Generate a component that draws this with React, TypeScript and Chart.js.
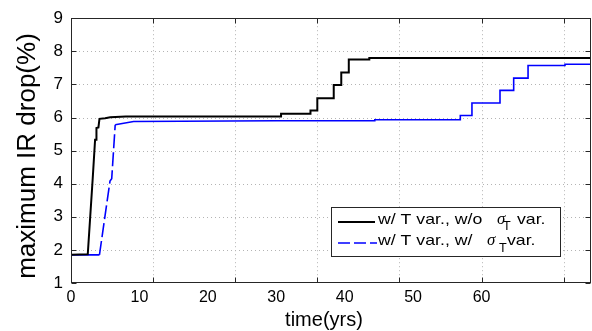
import React, { useEffect, useRef } from "react";
import { Chart, registerables } from "chart.js";

Chart.register(...registerables);

// ---- data ----
const timeBlack = [0, 2.45, 3.18, 3.52, 3.67, 3.72, 4.01, 4.16, 4.99, 5.73, 8.0, 30.7, 30.7, 35.0, 35.0, 36.0, 36.0, 38.4, 38.4, 39.5, 39.5, 40.6, 40.6, 43.6, 43.6, 76];
const irBlack = [1.85, 1.87, 4.18, 5.33, 5.33, 5.68, 5.7, 5.96, 5.98, 6.01, 6.03, 6.03, 6.11, 6.11, 6.21, 6.21, 6.58, 6.58, 6.98, 6.98, 7.36, 7.36, 7.75, 7.75, 7.8, 7.8];

const timeBlue = [0, 4.16, 5.7, 5.95, 6.46, 9.15, 30, 44.4, 44.4, 56.9, 56.9, 58.6, 58.6, 62.7, 62.7, 64.7, 64.7, 66.8, 66.8, 72.2, 72.2, 76];
const irBlue = [1.85, 1.85, 4.08, 4.15, 5.78, 5.88, 5.9, 5.9, 5.93, 5.93, 6.06, 6.06, 6.44, 6.44, 6.82, 6.82, 7.19, 7.19, 7.57, 7.57, 7.61, 7.61];

const xTickLabels = [0, 10, 20, 30, 40, 50, 60];
const xGridValues = [12, 24, 36, 48, 60, 72];
const yTickValues = [1, 2, 3, 4, 5, 6, 7, 8, 9];

const seriesNames = ["w/ T var., w/o", "w/ T var., w/"];
const sigmaText = "σ";
const sigmaSub = "T";
const varText = "var.";
const xTitle = "time(yrs)";
const yTitle = "maximum IR drop(%)";

const FONT = '"Liberation Sans", Arial, Helvetica, sans-serif';
const AXIS_COLOR = "#262626";

const matlabPlugin = {
  id: "matlabFrame",
  beforeDatasetsDraw(chart: any) {
    const { ctx, chartArea: a, scales } = chart;
    const x = scales.x;
    const y = scales.y;
    ctx.save();
    ctx.strokeStyle = "#b4b4b4";
    ctx.lineWidth = 1;
    ctx.setLineDash([1, 3]);
    for (const v of xGridValues) {
      const px = Math.round(x.getPixelForValue(v)) + 0.5;
      ctx.beginPath();
      ctx.moveTo(px, a.top);
      ctx.lineTo(px, a.bottom);
      ctx.stroke();
    }
    for (const v of yTickValues) {
      if (v === y.min || v === y.max) continue;
      const py = Math.round(y.getPixelForValue(v)) + 0.5;
      ctx.beginPath();
      ctx.moveTo(a.left, py);
      ctx.lineTo(a.right, py);
      ctx.stroke();
    }
    ctx.restore();
  },
  afterDatasetsDraw(chart: any) {
    const { ctx, chartArea: a, scales } = chart;
    const x = scales.x;
    const y = scales.y;
    const L = Math.round(a.left) + 0.5;
    const R = Math.round(a.right) - 0.5;
    const T = Math.round(a.top) + 0.5;
    const B = Math.round(a.bottom) - 0.5;
    ctx.save();
    ctx.strokeStyle = AXIS_COLOR;
    ctx.lineWidth = 1;
    ctx.setLineDash([]);
    ctx.strokeRect(L, T, R - L, B - T);
    const tl = 5;
    for (const v of xGridValues) {
      const px = Math.round(x.getPixelForValue(v)) + 0.5;
      ctx.beginPath();
      ctx.moveTo(px, B);
      ctx.lineTo(px, B - tl);
      ctx.moveTo(px, T);
      ctx.lineTo(px, T + tl);
      ctx.stroke();
    }
    for (const v of yTickValues) {
      const py = Math.round(y.getPixelForValue(v)) + 0.5;
      ctx.beginPath();
      ctx.moveTo(L, py);
      ctx.lineTo(L + tl, py);
      ctx.moveTo(R, py);
      ctx.lineTo(R - tl, py);
      ctx.stroke();
    }

    // axis titles
    ctx.fillStyle = "#000000";
    ctx.textBaseline = "alphabetic";
    ctx.textAlign = "center";
    ctx.font = `20px ${FONT}`;
    ctx.fillText(xTitle, 324, 326);
    ctx.save();
    ctx.translate(35, 156);
    ctx.rotate(-Math.PI / 2);
    ctx.font = `26px ${FONT}`;
    ctx.fillText(yTitle, 0, 0);
    ctx.restore();

    // legend box
    const bx = 331.5, by = 207.5, bw = 229, bh = 49;
    ctx.fillStyle = "#ffffff";
    ctx.fillRect(bx, by, bw, bh);
    ctx.strokeStyle = AXIS_COLOR;
    ctx.strokeRect(bx, by, bw, bh);

    // sample lines
    ctx.lineWidth = 2;
    ctx.strokeStyle = "#000000";
    ctx.beginPath();
    ctx.moveTo(338, 222);
    ctx.lineTo(375, 222);
    ctx.stroke();
    ctx.lineWidth = 1.6;
    ctx.strokeStyle = "#0000ff";
    ctx.setLineDash([12, 4]);
    ctx.beginPath();
    ctx.moveTo(338, 243);
    ctx.lineTo(377, 243);
    ctx.stroke();
    ctx.setLineDash([]);

    const drawStretched = (text: string, px: number, py: number, font: string, sx: number) => {
      ctx.save();
      ctx.translate(px, py);
      ctx.scale(sx, 1);
      ctx.font = font;
      ctx.fillText(text, 0, 0);
      ctx.restore();
    };
    ctx.fillStyle = "#000000";
    ctx.textAlign = "left";
    ctx.textBaseline = "alphabetic";
    const main = `15px ${FONT}`;
    const sig = `italic 16px "Liberation Serif", "DejaVu Serif", serif`;
    const sub = `12px ${FONT}`;
    // row 1
    drawStretched(seriesNames[0], 378, 224, main, 1.18);
    drawStretched(sigmaText, 497, 224, sig, 1.05);
    drawStretched(sigmaSub, 503, 230, sub, 1.05);
    drawStretched(varText, 517, 224, main, 1.18);
    // row 2
    drawStretched(seriesNames[1], 378, 245, main, 1.18);
    drawStretched(sigmaText, 487, 245, sig, 1.05);
    drawStretched(sigmaSub, 499, 251.5, sub, 1.05);
    drawStretched(varText, 507, 245, main, 1.18);
    ctx.restore();
  },
};

export default function App() {
  const ref = useRef<HTMLCanvasElement | null>(null);
  useEffect(() => {
    if (!ref.current) return;
    Chart.defaults.font.family = FONT;
    const chart = new Chart(ref.current, {
      type: "line",
      data: {
        datasets: [
          {
            label: seriesNames[0],
            data: timeBlack.map((t, i) => ({ x: t, y: irBlack[i] })),
            borderColor: "#000000",
            borderWidth: 2,
            pointRadius: 0,
            tension: 0,
            fill: false,
          },
          {
            label: seriesNames[1],
            data: timeBlue.map((t, i) => ({ x: t, y: irBlue[i] })),
            borderColor: "#0000ff",
            borderWidth: 1.6,
            pointRadius: 0,
            tension: 0,
            fill: false,
            segment: {
              borderDash: (ctx: any) =>
                ctx.p0.parsed.x >= 4 && ctx.p1.parsed.x <= 6.5 ? [14, 4] : [],
            },
          },
        ],
      },
      options: {
        animation: false,
        responsive: false,
        devicePixelRatio: 1,
        layout: { padding: { top: 15, right: 1, left: 0, bottom: 0 } },
        plugins: { legend: { display: false }, tooltip: { enabled: false } },
        scales: {
          x: {
            type: "linear",
            min: 0,
            max: 76,
            afterBuildTicks: (s: any) => {
              s.ticks = xTickLabels.map((v) => ({ value: v }));
            },
            afterFit: (s: any) => {
              s.height = 48;
            },
            ticks: {
              font: { size: 16 },
              color: "#000000",
              padding: 5,
              maxRotation: 0,
              autoSkip: false,
            },
            grid: { display: false, drawTicks: false },
            border: { display: false },
          },
          y: {
            type: "linear",
            min: 1,
            max: 9,
            afterBuildTicks: (s: any) => {
              s.ticks = yTickValues.map((v) => ({ value: v }));
            },
            afterFit: (s: any) => {
              s.width = 71;
            },
            ticks: {
              font: { size: 17 },
              color: "#000000",
              padding: 8,
            },
            grid: { display: false, drawTicks: false },
            border: { display: false },
          },
        },
      },
      plugins: [matlabPlugin],
    } as any);
    return () => chart.destroy();
  }, []);
  return (
    <div style={{ position: "absolute", left: 0, top: 0, width: 592, height: 331, background: "#fff" }}>
      <canvas ref={ref} width={592} height={331} style={{ display: "block" }} />
    </div>
  );
}
